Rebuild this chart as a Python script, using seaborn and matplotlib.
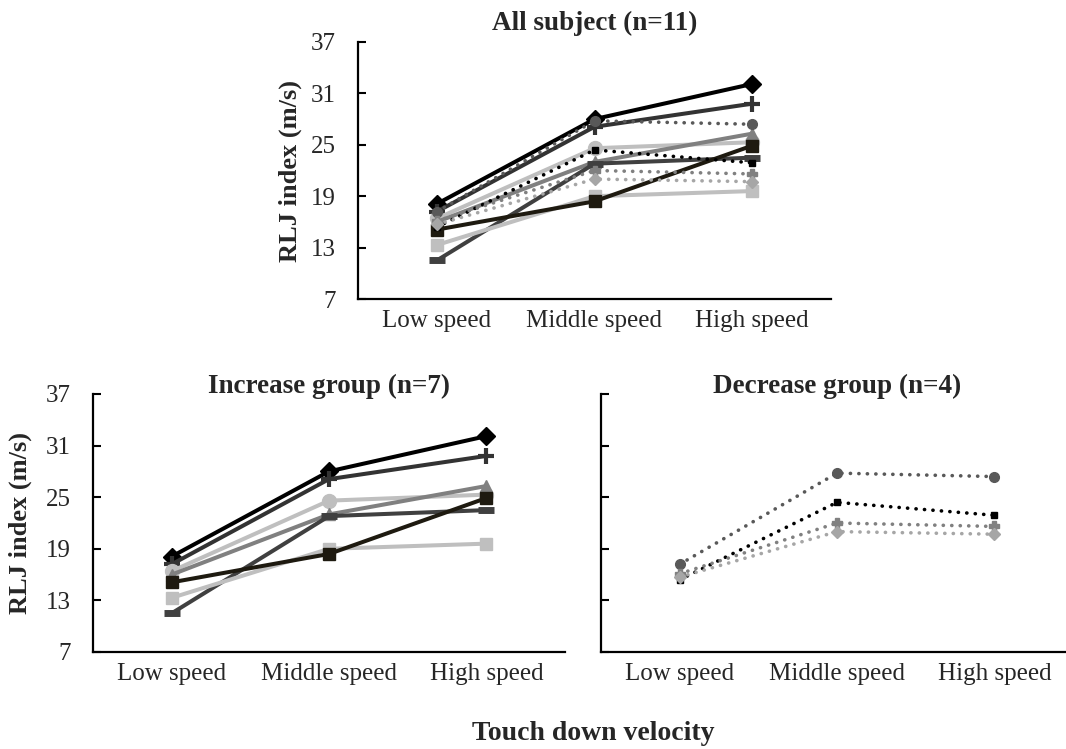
import matplotlib
matplotlib.use("Agg")
import matplotlib.pyplot as plt
import seaborn as sns
import pandas as pd

# Touch-down velocity conditions
speeds = ["Low speed", "Middle speed", "High speed"]

# RLJ index (m/s) per subject – increase group (n=7)
inc_s1 = [18.1, 28.0, 32.1]
inc_s2 = [17.2, 27.1, 29.8]
inc_s3 = [16.4, 24.6, 25.3]
inc_s4 = [16.0, 23.0, 26.3]
inc_s5 = [11.5, 22.8, 23.5]
inc_s6 = [13.3, 19.0, 19.6]
inc_s7 = [15.1, 18.4, 24.9]

# RLJ index (m/s) per subject – decrease group (n=4)
dec_s1 = [17.2, 27.8, 27.4]
dec_s2 = [15.4, 24.4, 22.9]
dec_s3 = [16.1, 22.0, 21.6]
dec_s4 = [15.7, 21.0, 20.7]

y_ticks = [7, 13, 19, 25, 31, 37]

sns.set_theme(style="white")
plt.rcParams["font.family"] = ["Liberation Serif", "DejaVu Serif"]

increase = [
    (inc_s1, "#000000", "D", 9, 1.0),
    (inc_s2, "#333333", "+", 11, 3.0),
    (inc_s3, "#bfbfbf", "o", 10, 1.0),
    (inc_s4, "#808080", "^", 9, 1.0),
    (inc_s5, "#404040", "_", 11, 5.0),
    (inc_s6, "#bfbfbf", "s", 9, 1.0),
    (inc_s7, "#1e1a10", "s", 9, 1.0),
]
decrease = [
    (dec_s1, "#595959", "o", 7, 1.0),
    (dec_s2, "#000000", "s", 5, 1.0),
    (dec_s3, "#808080", "P", 7, 1.0),
    (dec_s4, "#a6a6a6", "D", 6, 1.0),
]

W, H = 1066, 749
fig = plt.figure(figsize=(W / 100, H / 100), dpi=100)

ax_all = fig.add_axes([358 / W, 1 - 299 / H, 473 / W, 257 / H])
ax_inc = fig.add_axes([93 / W, 1 - 652 / H, 472 / W, 258 / H])
ax_dec = fig.add_axes([601 / W, 1 - 652 / H, 472 / W, 258 / H])


def draw_series(ax, vals, color, marker, ms, mew, dotted):
    df = pd.DataFrame({"speed": pd.Categorical(speeds, categories=speeds, ordered=True),
                       "rlj": vals})
    sns.lineplot(data=df, x="speed", y="rlj", ax=ax, color=color, marker=marker,
                 markersize=ms, markeredgewidth=mew, markeredgecolor=color,
                 linewidth=2.6 if dotted else 2.9,
                 linestyle=(0, (0.05, 2.3)) if dotted else "-",
                 dash_capstyle="round", sort=False, errorbar=None)


def style_axes(ax, title, title_pad, show_ylabels, ylabel_x):
    ax.set_xlim(-0.5, 2.5)
    ax.set_ylim(7, 37)
    ax.set_yticks(y_ticks)
    ax.set_xticks(range(len(speeds)))
    ax.set_xticklabels(speeds, fontsize=18)
    ax.set_xticks([-0.5, 0.5, 1.5, 2.5], minor=True)
    ax.tick_params(axis="x", which="major", length=0, pad=8)
    ax.tick_params(axis="x", which="minor", direction="in", length=6, width=1.5, color="black")
    ax.tick_params(axis="y", direction="in", length=6, width=1.5, color="black",
                   pad=16, labelsize=18, left=True)
    if not show_ylabels:
        ax.set_yticklabels([])
    for side in ("top", "right"):
        ax.spines[side].set_visible(False)
    for side in ("left", "bottom"):
        ax.spines[side].set_color("black")
        ax.spines[side].set_linewidth(1.6)
    ax.set_xlabel("")
    if ylabel_x is not None:
        ax.set_ylabel("RLJ index (m/s)", fontsize=19, fontweight="bold")
        ax.yaxis.set_label_coords(ylabel_x, 0.5)
    else:
        ax.set_ylabel("")
    ax.set_title(title, fontsize=19.5, fontweight="bold", pad=title_pad)


for vals, color, marker, ms, mew in increase:
    draw_series(ax_all, vals, color, marker, ms, mew, False)
    draw_series(ax_inc, vals, color, marker, ms, mew, False)
for vals, color, marker, ms, mew in decrease:
    draw_series(ax_all, vals, color, marker, ms, mew, True)
    draw_series(ax_dec, vals, color, marker, ms, mew, True)

style_axes(ax_all, "All subject (n=11)", 9, True, (302 - 358) / 473)
style_axes(ax_inc, "Increase group (n=7)", 1, True, (32 - 93) / 472)
style_axes(ax_dec, "Decrease group (n=4)", 1, False, None)

fig.text(593 / W, 1 - 733 / H, "Touch down velocity", ha="center", va="center",
         fontsize=20, fontweight="bold")

fig.savefig("out.png", dpi=100)
